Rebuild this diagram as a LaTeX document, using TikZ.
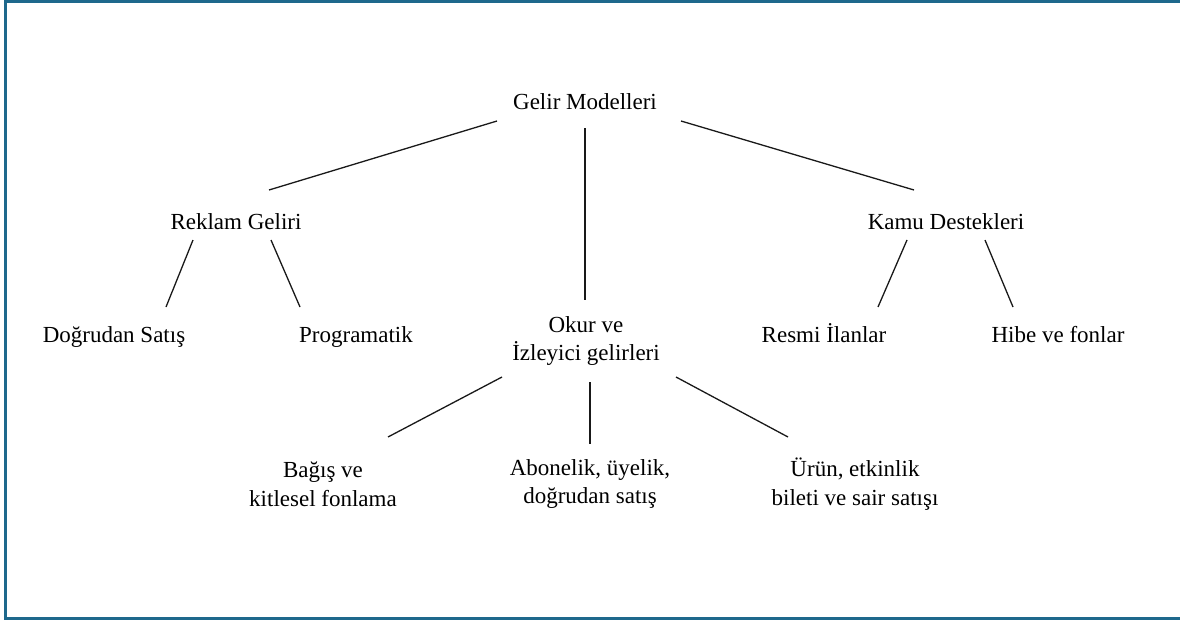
\documentclass[tikz,border=0pt]{standalone}
\usepackage{fontspec}
\setmainfont{Liberation Serif}
\definecolor{framec}{RGB}{30,104,140}
\tikzset{
  lbl/.style={align=center, inner sep=0pt, font=\fontsize{23}{28.5}\selectfont},
  lblb/.style={lbl, anchor=base},
  conn/.style={line width=1.3pt, black!90}
}
\begin{document}
\begin{tikzpicture}[x=1pt,y=-1pt]
\useasboundingbox (0,0) rectangle (1180,621);
\draw[framec, line width=2.6pt] (1180,1.5) -- (5.5,1.5) -- (5.5,618.5) -- (1180,618.5);
\node[lblb] (gelir) at (585,109) {Gelir Modelleri};
\node[lblb] (reklam) at (236,229) {Reklam Geliri};
\node[lblb] (kamu) at (946,229) {Kamu Destekleri};
\node[lblb] (dog) at (114,342) {Doğrudan Satış};
\node[lblb] (prog) at (356,342) {Programatik};
\node[lbl] (okur) at (586,341) {Okur ve\\İzleyici gelirleri};
\node[lblb] (resmi) at (824,342) {Resmi İlanlar};
\node[lblb] (hibe) at (1058,342) {Hibe ve fonlar};
\node[lbl] (bagis) at (323,484) {Bağış ve\\kitlesel fonlama};
\node[lbl] (abon) at (590,484) {Abonelik, üyelik,\\doğrudan satış};
\node[lbl] (urun) at (855,484) {Ürün, etkinlik\\bileti ve sair satışı};
\draw[conn] ([shift={(-88,12)}]gelir.base) -- ([shift={(33,-39)}]reklam.base);
\draw[conn] ([shift={(0,19)}]gelir.base) -- ([shift={(-1,-41)}]okur.center);
\draw[conn] ([shift={(96,12)}]gelir.base) -- ([shift={(-32,-39)}]kamu.base);
\draw[conn] ([shift={(-43,11)}]reklam.base) -- ([shift={(52,-35)}]dog.base);
\draw[conn] ([shift={(35,11)}]reklam.base) -- ([shift={(-56,-35)}]prog.base);
\draw[conn] ([shift={(-39,11)}]kamu.base) -- ([shift={(54,-35)}]resmi.base);
\draw[conn] ([shift={(39,11)}]kamu.base) -- ([shift={(-45,-35)}]hibe.base);
\draw[conn] ([shift={(-84,36)}]okur.center) -- ([shift={(65,-47)}]bagis.center);
\draw[conn] ([shift={(4,41)}]okur.center) -- ([shift={(0,-40)}]abon.center);
\draw[conn] ([shift={(90,36)}]okur.center) -- ([shift={(-67,-47)}]urun.center);
\end{tikzpicture}
\end{document}
